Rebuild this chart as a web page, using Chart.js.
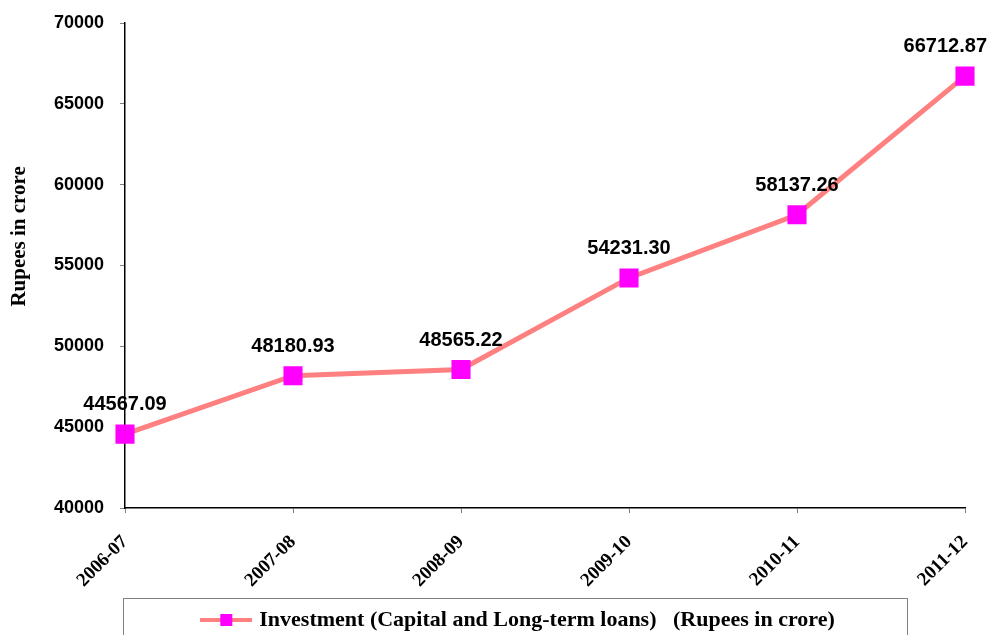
<!DOCTYPE html>
<html>
<head>
<meta charset="utf-8">
<script src="https://cdn.jsdelivr.net/npm/chart.js@4.4.1/dist/chart.umd.min.js"></script>
<style>
  html, body { margin: 0; padding: 0; background: #fff; }
  #wrap { width: 988px; height: 635px; position: relative; }
</style>
</head>
<body>
<div id="wrap"><canvas id="invChart" width="988" height="635"></canvas></div>
<script>
var years = ['2006-07', '2007-08', '2008-09', '2009-10', '2010-11', '2011-12'];
var investment = [44567.09, 48180.93, 48565.22, 54231.30, 58137.26, 66712.87];
var seriesName = 'Investment (Capital and Long-term loans)   (Rupees in crore)';
var yTitle = 'Rupees in crore';
var yMin = 40000, yMax = 70000, yStep = 5000;

var sansBold = "Arial, 'Liberation Sans', sans-serif";
var serifBold = "'Times New Roman', 'Liberation Serif', serif";

// legend marker: line with a square in the middle
var legendIcon = document.createElement('canvas');
legendIcon.width = 52;
legendIcon.height = 20;
(function () {
    var c = legendIcon.getContext('2d');
    c.strokeStyle = '#FF8080';
    c.lineWidth = 4;
    c.beginPath();
    c.moveTo(0, 10);
    c.lineTo(52, 10);
    c.stroke();
    c.fillStyle = '#FF00FF';
    c.fillRect(20, 4, 12, 12);
})();

// value labels above each point
var valueLabels = {
    id: 'valueLabels',
    afterDatasetsDraw: function (chart) {
        var ctx = chart.ctx;
        var meta = chart.getDatasetMeta(0);
        ctx.save();
        ctx.font = 'bold 20px ' + sansBold;
        ctx.fillStyle = '#000';
        ctx.textBaseline = 'alphabetic';
        meta.data.forEach(function (pt, i) {
            var txt = investment[i].toFixed(2);
            var w = ctx.measureText(txt).width;
            var x = pt.x - w / 2;
            if (x + w > chart.width - 1) x = chart.width - 1 - w;
            ctx.fillText(txt, x, pt.y - 24);
        });
        ctx.restore();
    }
};

// y axis title, sitting a little above the middle like the original
var axisTitle = {
    id: 'axisTitle',
    afterDraw: function (chart) {
        var ctx = chart.ctx;
        var area = chart.chartArea;
        ctx.save();
        ctx.translate(20, area.top + (area.bottom - area.top) * 0.44);
        ctx.rotate(-Math.PI / 2);
        ctx.font = 'bold 21px ' + serifBold;
        ctx.fillStyle = '#000';
        ctx.textAlign = 'center';
        ctx.textBaseline = 'middle';
        ctx.fillText(yTitle, 0, 0);
        ctx.restore();
    }
};

// shift legend a bit and draw its frame
var legendFrame = {
    id: 'legendFrame',
    afterLayout: function (chart) {
        chart.legend.left += 74;
        chart.legend.top += 6;
    },
    afterDraw: function (chart) {
        var ctx = chart.ctx;
        ctx.save();
        ctx.strokeStyle = '#808080';
        ctx.lineWidth = 1;
        ctx.strokeRect(123.5, 598.5, 784, 60);
        ctx.restore();
    }
};

var ctx = document.getElementById('invChart').getContext('2d');
var invChart = new Chart(ctx, {
    type: 'line',
    data: {
        labels: years,
        datasets: [{
            label: seriesName,
            data: investment,
            borderColor: '#FF8080',
            backgroundColor: '#FF00FF',
            borderWidth: 5,
            pointStyle: 'rect',
            pointRadius: 13.5,
            pointHoverRadius: 13.5,
            pointBorderWidth: 0,
            pointBackgroundColor: '#FF00FF',
            pointBorderColor: '#FF00FF',
            tension: 0
        }]
    },
    options: {
        responsive: false,
        animation: false,
        layout: {
            padding: { top: 23, right: 23, left: 0, bottom: 0 }
        },
        scales: {
            x: {
                offset: false,
                grid: { drawOnChartArea: false, drawTicks: true, tickLength: 5, color: '#808080' },
                border: { color: '#000', width: 1.5 },
                ticks: {
                    minRotation: 45,
                    maxRotation: 45,
                    autoSkip: false,
                    padding: 18,
                    color: '#000',
                    font: { family: serifBold, size: 19, weight: 'bold' }
                },
                afterFit: function (scale) {
                    scale.height = 85;
                    scale.paddingLeft = 0;
                    scale.paddingRight = 0;
                }
            },
            y: {
                min: yMin,
                max: yMax,
                grid: { drawOnChartArea: false, drawTicks: true, tickLength: 5, color: '#808080' },
                border: { color: '#000', width: 1.5 },
                ticks: {
                    stepSize: yStep,
                    padding: 16,
                    color: '#000',
                    font: { family: sansBold, size: 18, weight: 'bold' },
                    callback: function (v) { return String(v); }
                },
                afterFit: function (scale) {
                    scale.width = 125;
                    scale.paddingTop = 0;
                    scale.paddingBottom = 0;
                }
            }
        },
        plugins: {
            legend: {
                display: true,
                position: 'bottom',
                labels: {
                    usePointStyle: true,
                    pointStyle: legendIcon,
                    pointStyleWidth: 44,
                    padding: 10,
                    color: '#000',
                    font: { family: serifBold, size: 22, weight: 'bold' }
                }
            },
            tooltip: { enabled: false }
        }
    },
    plugins: [valueLabels, axisTitle, legendFrame]
});
</script>
</body>
</html>
